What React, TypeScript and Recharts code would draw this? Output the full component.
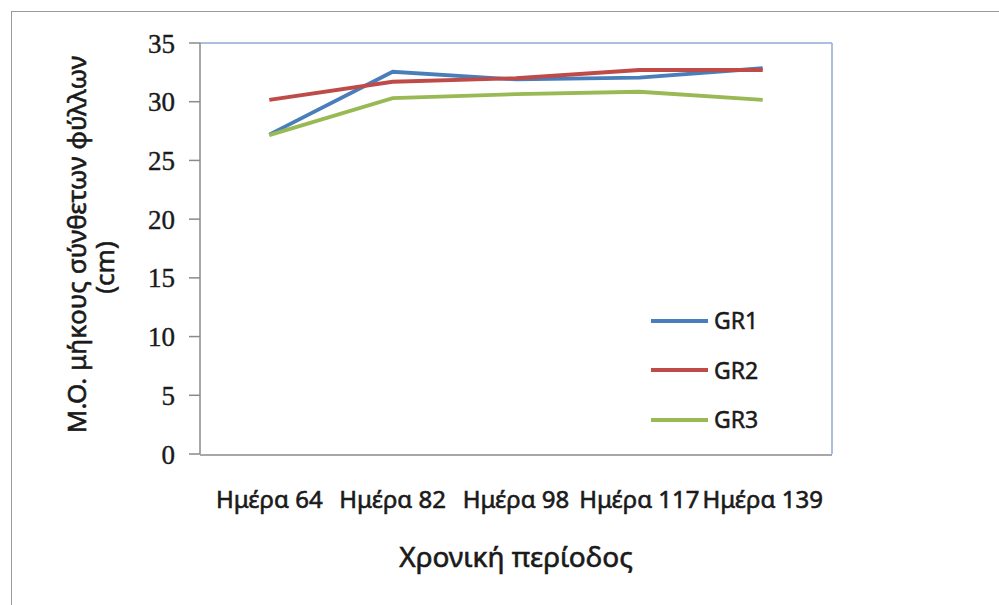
import React from "react";
import { LineChart, Line, XAxis, YAxis, Legend, Label } from "recharts";

const days = ["Ημέρα 64", "Ημέρα 82", "Ημέρα 98", "Ημέρα 117", "Ημέρα 139"];
const gr1 = [27.2, 32.55, 31.9, 32.05, 32.85];
const gr2 = [30.15, 31.7, 32.0, 32.7, 32.7];
const gr3 = [27.15, 30.3, 30.65, 30.85, 30.15];
const yTicks = [0, 5, 10, 15, 20, 25, 30, 35];
const edgeTicks = [0, 1, 2, 3, 4, 5];

const series = [
  { key: "GR1", color: "#4a7ebb" },
  { key: "GR2", color: "#be4b48" },
  { key: "GR3", color: "#98b954" },
];

const data = days.map((day, i) => ({ day, GR1: gr1[i], GR2: gr2[i], GR3: gr3[i] }));

const W = 999;
const H = 605;
const margin = { top: 42, right: 166, bottom: 149, left: 140 };
const plotWidth = W - margin.left - margin.right;
const halfBand = plotWidth / days.length / 2;

const sans = "'Noto Sans', 'Open Sans', sans-serif";
const serif = "'Liberation Serif', 'DejaVu Serif', serif";
const ink = "#1a1a1a";
const axisGray = "#8a8a8a";
const frameBlue = "#8eabd0";
// thin outline so the sans text reads a bit heavier
const heavy = { stroke: ink, strokeWidth: 0.6 };

const YTitle = ({ viewBox }: any) => {
  const cy = viewBox.y + viewBox.height / 2;
  const x1 = viewBox.x - 54;
  const x2 = viewBox.x - 26;
  return (
    <g fill={ink} fontFamily={sans} fontSize={26} {...heavy}>
      <text transform={`translate(${x1},${cy - 4}) rotate(-90)`} textAnchor="middle">
        Μ.Ο. μήκους σύνθετων φύλλων
      </text>
      <text transform={`translate(${x2},${cy + 19}) rotate(-90)`} textAnchor="middle">
        (cm)
      </text>
    </g>
  );
};

const LegendBox = ({ payload }: any) => (
  <div style={{ display: "flex", flexDirection: "column" }}>
    {(payload || []).map((entry: any) => (
      <div key={entry.value} style={{ display: "flex", alignItems: "center", height: 49.5 }}>
        <span style={{ display: "inline-block", width: 57, height: 4, background: entry.color, marginRight: 6 }} />
        <span
          style={{
            fontFamily: sans,
            fontSize: 23,
            color: ink,
            lineHeight: 1,
            WebkitTextStroke: "0.5px " + ink,
          }}
        >
          {entry.value}
        </span>
      </div>
    ))}
  </div>
);

export default function App() {
  return (
    <div style={{ position: "absolute", left: 0, top: 0, width: W, height: H, background: "#fff", overflow: "hidden" }}>
      <div
        style={{
          position: "absolute",
          left: 11,
          top: 11,
          width: W,
          height: H,
          borderTop: "1.5px solid #9a9a9a",
          borderLeft: "1.5px solid #9a9a9a",
        }}
      />
      <LineChart width={W} height={H} data={data} margin={margin}>
        <XAxis
          xAxisId="frame"
          orientation="top"
          type="number"
          domain={[0, 1]}
          height={1}
          tick={false}
          tickLine={false}
          axisLine={{ stroke: frameBlue, strokeWidth: 1.5 }}
        />
        <YAxis
          yAxisId="frame"
          orientation="right"
          domain={[0, 35]}
          width={1}
          tick={false}
          tickLine={false}
          axisLine={{ stroke: frameBlue, strokeWidth: 1.5 }}
        />
        <XAxis
          xAxisId="edges"
          type="number"
          domain={[0, 5]}
          ticks={edgeTicks}
          height={1}
          tick={false}
          tickSize={11}
          tickLine={{ stroke: axisGray, strokeWidth: 1.5 }}
          axisLine={{ stroke: axisGray, strokeWidth: 1.5 }}
        />
        <XAxis
          xAxisId="days"
          dataKey="day"
          height={1}
          interval={0}
          padding={{ left: halfBand, right: halfBand }}
          axisLine={false}
          tickLine={false}
          tickSize={0}
          tickMargin={37}
          tick={{ fill: ink, fontFamily: sans, fontSize: 24, ...heavy }}
        >
          <Label
            value="Χρονική περίοδος"
            position="bottom"
            offset={92}
            style={{ fill: ink, fontFamily: sans, fontSize: 28, ...heavy }}
          />
        </XAxis>
        <YAxis
          yAxisId="val"
          domain={[0, 35]}
          ticks={yTicks}
          width={60}
          tickSize={11}
          tickMargin={14}
          tickLine={{ stroke: axisGray, strokeWidth: 1.5 }}
          axisLine={{ stroke: axisGray, strokeWidth: 1.5 }}
          tick={{ fill: ink, fontFamily: serif, fontSize: 27, stroke: ink, strokeWidth: 0.4 }}
        >
          <Label content={YTitle} />
        </YAxis>
        <Legend
          layout="vertical"
          align="center"
          verticalAlign="middle"
          content={LegendBox}
          wrapperStyle={{ left: 651, top: 296, width: 120 }}
        />
        {series.map((s) => (
          <Line
            key={s.key}
            xAxisId="days"
            yAxisId="val"
            dataKey={s.key}
            stroke={s.color}
            strokeWidth={3.8}
            dot={false}
            isAnimationActive={false}
          />
        ))}
      </LineChart>
    </div>
  );
}
